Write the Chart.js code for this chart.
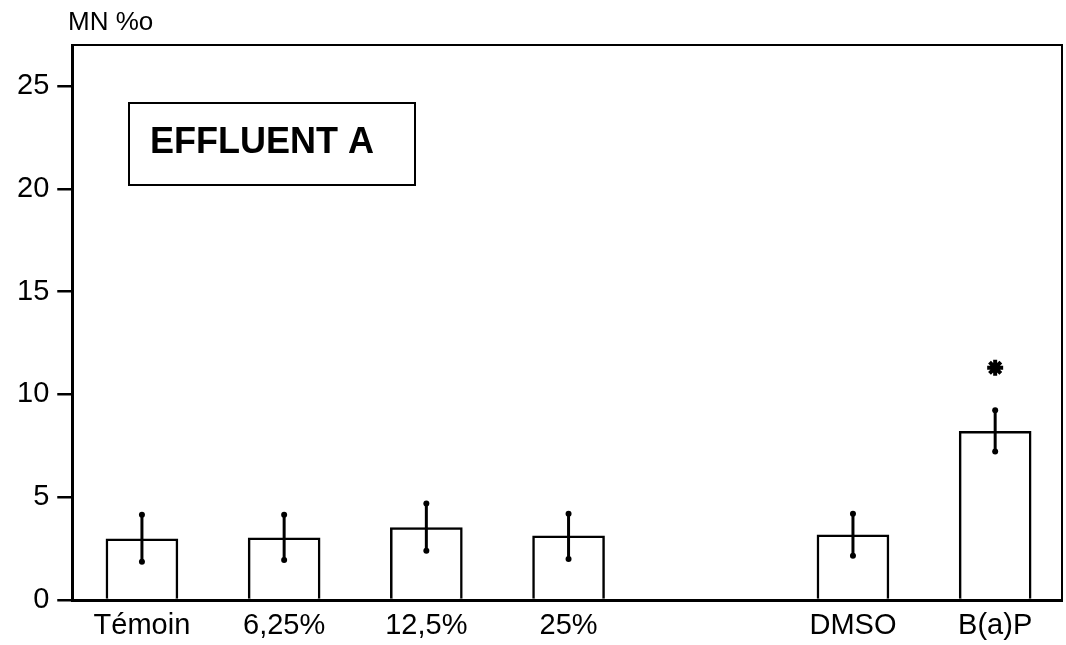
<!DOCTYPE html>
<html>
<head>
<meta charset="utf-8">
<script src="https://cdn.jsdelivr.net/npm/chart.js@4"></script>
<style>
  html, body { margin: 0; padding: 0; background: #fff; }
  #wrap { width: 1066px; height: 645px; }
</style>
</head>
<body>
<div id="wrap"><canvas id="mnChart" width="1066" height="645"></canvas></div>
<script>
// groups on the x axis (empty slot = gap between treatments and controls)
const categories = ["Témoin", "6,25%", "12,5%", "25%", "", "DMSO", "B(a)P"];
const meanValues = [2.98, 3.03, 3.52, 3.12, null, 3.17, 8.2];
const errorHigh = [4.15, 4.15, 4.69, 4.2, null, 4.2, 9.23];
const errorLow = [1.86, 1.95, 2.39, 2.0, null, 2.15, 7.23];
const starValues = [null, null, null, null, null, null, 11.3];
const yTicks = [0, 5, 10, 15, 20, 25];

const FONT = "'Liberation Sans', Arial, sans-serif";

const barPoints = categories
  .map((c, i) => ({ x: i, y: meanValues[i] }))
  .filter((p) => p.y !== null);

const starPoints = categories
  .map((c, i) => ({ x: i, y: starValues[i] }))
  .filter((p) => p.y !== null);

// error bars with small dots at each end
const errorBarPlugin = {
  id: "errorBars",
  afterDatasetsDraw(chart) {
    const { ctx, scales } = chart;
    ctx.save();
    ctx.strokeStyle = "#000";
    ctx.fillStyle = "#000";
    ctx.lineWidth = 3;
    categories.forEach((c, i) => {
      if (errorHigh[i] === null) return;
      const x = scales.x.getPixelForValue(i);
      const yHi = scales.y.getPixelForValue(errorHigh[i]);
      const yLo = scales.y.getPixelForValue(errorLow[i]);
      ctx.beginPath();
      ctx.moveTo(x, yHi);
      ctx.lineTo(x, yLo);
      ctx.stroke();
      [yHi, yLo].forEach((y) => {
        ctx.beginPath();
        ctx.arc(x, y, 3, 0, Math.PI * 2);
        ctx.fill();
      });
    });
    ctx.restore();
  },
};

// frame (top + right), y title, EFFLUENT box
const decorPlugin = {
  id: "decor",
  afterDraw(chart) {
    const { ctx, chartArea } = chart;
    ctx.save();
    ctx.strokeStyle = "#000";
    ctx.lineWidth = 2;
    ctx.beginPath();
    ctx.moveTo(chartArea.left, chartArea.top);
    ctx.lineTo(chartArea.right, chartArea.top);
    ctx.lineTo(chartArea.right, chartArea.bottom);
    ctx.stroke();

    ctx.fillStyle = "#000";
    ctx.textBaseline = "alphabetic";
    ctx.textAlign = "left";
    ctx.font = "26px " + FONT;
    ctx.fillText("MN %o", 68, 30);

    ctx.lineWidth = 2;
    ctx.strokeRect(129, 103, 286, 82);
    ctx.font = "bold 36px " + FONT;
    ctx.fillText("EFFLUENT A", 150, 153);
    ctx.restore();
  },
};

new Chart(document.getElementById("mnChart"), {
  data: {
    datasets: [
      {
        type: "bar",
        data: barPoints,
        backgroundColor: "#fff",
        borderColor: "#000",
        borderWidth: 2.5,
        barThickness: 72,
      },
      {
        type: "scatter",
        data: starPoints,
        pointStyle: "star",
        radius: 8,
        borderWidth: 4,
        borderColor: "#000",
        backgroundColor: "#000",
      },
    ],
  },
  options: {
    responsive: false,
    animation: false,
    layout: { autoPadding: false, padding: { top: 45, right: 4, bottom: 0, left: 9 } },
    plugins: {
      legend: { display: false },
      tooltip: { enabled: false },
    },
    scales: {
      x: {
        type: "linear",
        offset: false,
        min: -0.49,
        max: 6.47,
        afterBuildTicks: (axis) => {
          axis.ticks = categories.map((c, i) => ({ value: i }));
        },
        afterFit: (axis) => {
          axis.paddingLeft = 0;
          axis.paddingRight = 0;
          axis.height = 45;
        },
        ticks: {
          color: "#000",
          font: { family: FONT, size: 29 },
          padding: 9,
          maxRotation: 0,
          autoSkip: false,
          callback: (v) => categories[v],
        },
        grid: { display: false, drawTicks: false, offset: false },
        border: { display: true, color: "#000", width: 3 },
      },
      y: {
        min: 0,
        max: 27,
        afterBuildTicks: (axis) => {
          axis.ticks = yTicks.map((v) => ({ value: v }));
        },
        ticks: {
          color: "#000",
          font: { family: FONT, size: 29 },
          padding: 8,
        },
        grid: {
          drawOnChartArea: false,
          drawTicks: true,
          tickLength: 15,
          color: "#000",
          lineWidth: 2.5,
        },
        border: { display: true, color: "#000", width: 3 },
      },
    },
  },
  plugins: [errorBarPlugin, decorPlugin],
});
</script>
</body>
</html>
